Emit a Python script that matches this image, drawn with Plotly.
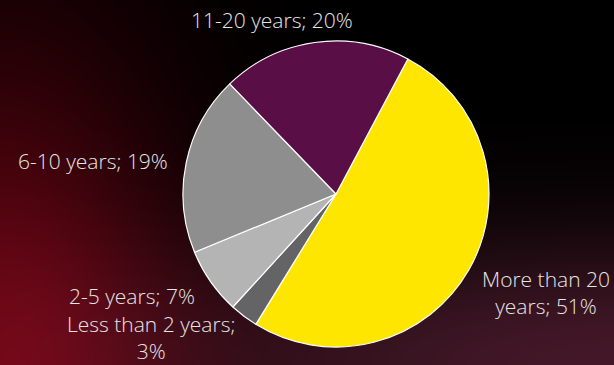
import base64
import struct
import textwrap
import zlib

import numpy as np
import plotly.graph_objects as go

# Years of experience, clockwise from the yellow slice
labels = ["More than 20 years", "Less than 2 years", "2-5 years", "6-10 years", "11-20 years"]
values = [51, 3, 7, 19, 20]
wrap_widths = [12, 18, 30, 30, 30]
colors = ["#FFE600", "#646467", "#B4B4B4", "#8E8E8E", "#5A0E46"]

# Label anchor points in pixels (centre of each text block)
label_xy = [(546, 292), (151, 337), (132, 296), (93, 161), (272, 20)]

W, H = 614, 365


def png_data_uri(rgb):
    h, w, _ = rgb.shape
    raw = b"".join(b"\x00" + rgb[r].tobytes() for r in range(h))

    def chunk(tag, data):
        body = tag + data
        return struct.pack(">I", len(data)) + body + struct.pack(">I", zlib.crc32(body) & 0xFFFFFFFF)

    png = (b"\x89PNG\r\n\x1a\n"
           + chunk(b"IHDR", struct.pack(">IIBBBBB", w, h, 8, 2, 0, 0, 0))
           + chunk(b"IDAT", zlib.compress(raw, 9))
           + chunk(b"IEND", b""))
    return "data:image/png;base64," + base64.b64encode(png).decode()


def background(w=307, h=183):
    xs = np.linspace(0, W, w)
    ys = np.linspace(0, H, h)
    x, y = np.meshgrid(xs, ys)
    red = np.exp(-((x / 175) ** 2 + ((H - y) / 320) ** 2))
    purple = np.exp(-((H - y) / 130) ** 2) * np.exp(-((W - x) / 500) ** 2)
    img = (red[..., None] * np.array([100, 4, 17])
           + purple[..., None] * np.array([68, 24, 40]))
    return np.clip(img, 0, 255).astype(np.uint8)


text = ["<br>".join(textwrap.wrap(f"{l}; {v}%", width=ww))
        for l, v, ww in zip(labels, values, wrap_widths)]

cx, cy, r = 336, 194, 153

fig = go.Figure(go.Pie(
    labels=labels,
    values=values,
    textinfo="none",
    sort=False,
    direction="clockwise",
    rotation=28,
    marker=dict(colors=colors, line=dict(color="white", width=1.2)),
    domain=dict(x=[(cx - r) / W, (cx + r) / W], y=[1 - (cy + r) / H, 1 - (cy - r) / H]),
    showlegend=False,
    hoverinfo="label+percent",
))

for t, (px, py) in zip(text, label_xy):
    fig.add_annotation(
        text=t, x=px / W, y=1 - py / H, xref="paper", yref="paper",
        xanchor="center", yanchor="middle", align="center", showarrow=False,
        borderpad=0,
        font=dict(family="Open Sans", size=21, color="#E6E6E6", weight=300),
    )

fig.update_layout(
    width=W, height=H,
    margin=dict(l=0, r=0, t=0, b=0),
    paper_bgcolor="black",
    plot_bgcolor="black",
    images=[dict(source=png_data_uri(background()), xref="paper", yref="paper",
                 x=0, y=1, sizex=1, sizey=1, sizing="stretch", layer="below",
                 xanchor="left", yanchor="top")],
)

fig.write_html("out.html")
